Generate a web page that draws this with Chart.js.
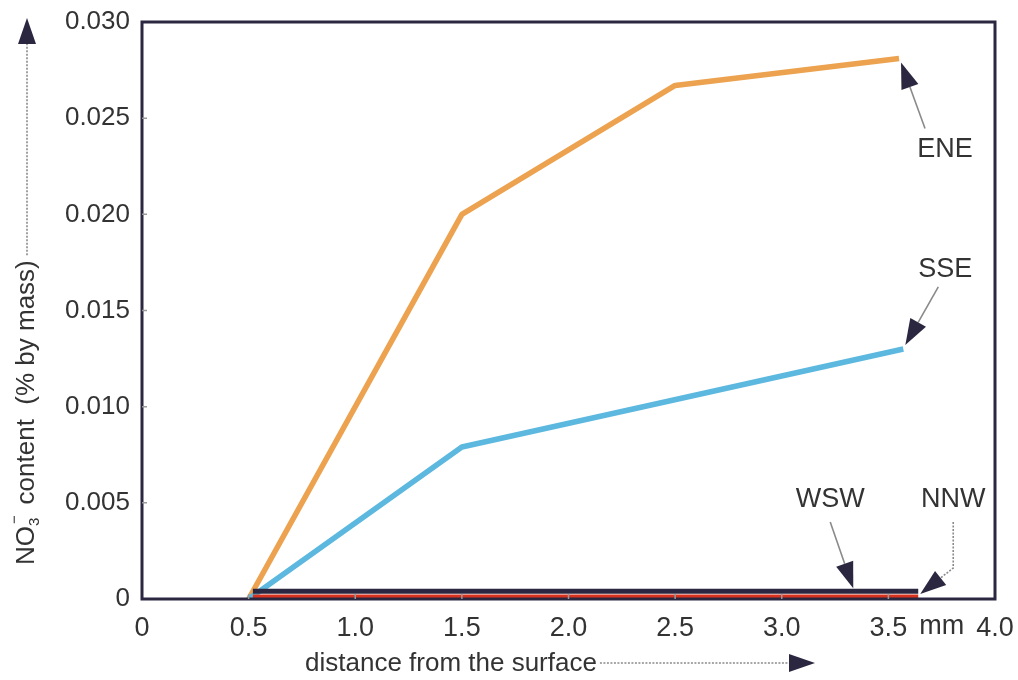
<!DOCTYPE html>
<html>
<head>
<meta charset="utf-8">
<title>NO3- content vs distance from the surface</title>
<script src="https://cdn.jsdelivr.net/npm/chart.js@4/dist/chart.umd.min.js"></script>
<style>
  html, body { margin: 0; padding: 0; background: #ffffff; }
  #wrap { width: 1018px; height: 680px; position: relative; }
</style>
</head>
<body>
<div id="wrap"><canvas id="chart" width="1018" height="680"></canvas></div>
<script>
// Depth profiles of nitrate content (% by mass) per facade orientation
const eneDistance = [0.5, 1.5, 2.5, 3.55];
const eneValues   = [0, 0.0200, 0.0267, 0.0281];

const sseDistance = [0.5, 1.5, 3.57];
const sseValues   = [0, 0.0079, 0.0130];

const wswDistance = [0.52, 3.64];
const wswValues   = [0.0004, 0.0004];

const nnwDistance = [0.52, 3.64];
const nnwValues   = [0.0001, 0.0001];

const xTicks = [0, 0.5, 1.0, 1.5, 2.0, 2.5, 3.0, 3.5, 4.0];
const yTicks = [0, 0.005, 0.010, 0.015, 0.020, 0.025, 0.030];

const seriesNames = ['ENE', 'SSE', 'WSW', 'NNW'];

const INK = '#2c2740';
const TEXT = '#333333';
const FONT = '"Liberation Sans", Arial, Helvetica, sans-serif';

function pts(xs, ys) { return xs.map((x, i) => ({ x: x, y: ys[i] })); }

// Arrow with a thin shaft and a solid dark head
function arrow(ctx, path, dashed) {
  const n = path.length;
  const [tx, ty] = path[n - 1];
  const [px, py] = path[n - 2];
  const ang = Math.atan2(ty - py, tx - px);
  const len = 26, half = 9;
  const bx = tx - Math.cos(ang) * len, by = ty - Math.sin(ang) * len;
  ctx.save();
  ctx.strokeStyle = '#8a8a8a';
  ctx.lineWidth = 1.6;
  if (dashed) ctx.setLineDash([2, 1.5]);
  ctx.beginPath();
  ctx.moveTo(path[0][0], path[0][1]);
  for (let i = 1; i < n - 1; i++) ctx.lineTo(path[i][0], path[i][1]);
  ctx.lineTo(bx, by);
  ctx.stroke();
  ctx.setLineDash([]);
  ctx.fillStyle = INK;
  ctx.beginPath();
  ctx.moveTo(tx, ty);
  ctx.lineTo(bx - Math.sin(ang) * half, by + Math.cos(ang) * half);
  ctx.lineTo(bx + Math.sin(ang) * half, by - Math.cos(ang) * half);
  ctx.closePath();
  ctx.fill();
  ctx.restore();
}

const decorations = {
  id: 'decorations',
  afterDraw(chart) {
    const { ctx, chartArea: a, scales: { x, y } } = chart;

    // frame
    ctx.save();
    ctx.strokeStyle = INK;
    ctx.lineWidth = 3;
    ctx.strokeRect(a.left, a.top, a.right - a.left, a.bottom - a.top);

    // short inward tick marks
    ctx.strokeStyle = '#9a9a9a';
    ctx.lineWidth = 1.5;
    ctx.beginPath();
    yTicks.forEach(v => {
      const py = y.getPixelForValue(v);
      if (v > 0 && v < 0.03) { ctx.moveTo(a.left, py); ctx.lineTo(a.left + 5, py); }
    });
    xTicks.forEach(v => {
      const px = x.getPixelForValue(v);
      if (v > 0 && v < 4) { ctx.moveTo(px, a.bottom); ctx.lineTo(px, a.bottom - 5); }
    });
    ctx.stroke();

    // unit next to the last labelled tick
    ctx.fillStyle = TEXT;
    ctx.font = '27px ' + FONT;
    ctx.textAlign = 'center';
    ctx.textBaseline = 'top';
    ctx.fillText('mm', x.getPixelForValue(3.75), a.bottom + 14);

    // x axis title with arrow
    ctx.font = '26px ' + FONT;
    ctx.textAlign = 'left';
    ctx.textBaseline = 'middle';
    const xt = 'distance from the surface';
    ctx.fillText(xt, 305, 664);
    const xtEnd = 305 + ctx.measureText(xt).width + 3;
    arrow(ctx, [[xtEnd, 663], [815, 663]], true);

    // y axis title (rotated) with arrow
    ctx.save();
    ctx.translate(27, 565);
    ctx.rotate(-Math.PI / 2);
    ctx.textAlign = 'left';
    ctx.textBaseline = 'middle';
    let cx = 0;
    ctx.font = '26px ' + FONT;
    ctx.fillText('NO', cx, 0); cx += ctx.measureText('NO').width;
    ctx.font = '15px ' + FONT;
    ctx.fillText('3', cx, 8);
    ctx.fillText('\u2212', cx + 2, -12);
    cx += ctx.measureText('3').width + 6;
    ctx.font = '26px ' + FONT;
    const rest = ' content  (% by mass)';
    ctx.fillText(rest, cx, 0); cx += ctx.measureText(rest).width;
    ctx.restore();
    arrow(ctx, [[27, 565 - cx - 5], [27, 18]], true);

    // series callouts
    const last = (xs, ys) => [x.getPixelForValue(xs[xs.length - 1]), y.getPixelForValue(ys[ys.length - 1])];
    ctx.font = '27px ' + FONT;
    ctx.fillStyle = TEXT;
    ctx.textAlign = 'center';
    ctx.textBaseline = 'middle';

    const [ex, ey] = last(eneDistance, eneValues);
    ctx.fillText(seriesNames[0], ex + 46, ey + 91);
    arrow(ctx, [[ex + 26, ey + 70], [ex + 2, ey + 4]]);

    const [sx, sy] = last(sseDistance, sseValues);
    ctx.fillText(seriesNames[1], sx + 42, sy - 79);
    arrow(ctx, [[sx + 35, sy - 62], [sx + 2, sy - 4]]);

    const [wx, wy] = last(wswDistance, wswValues);
    ctx.fillText(seriesNames[2], wx - 88, 500);
    arrow(ctx, [[wx - 88, 522], [wx - 65, wy - 3]]);

    const [nx, ny] = last(nnwDistance, nnwValues);
    ctx.fillText(seriesNames[3], nx + 35, 500);
    arrow(ctx, [[nx + 35, 522], [nx + 35, 568], [nx + 2, ny - 3]], true);

    ctx.restore();
  }
};

new Chart(document.getElementById('chart'), {
  type: 'line',
  data: {
    datasets: [
      { label: seriesNames[3], data: pts(nnwDistance, nnwValues), borderColor: '#d8321e', borderWidth: 5 },
      { label: seriesNames[2], data: pts(wswDistance, wswValues), borderColor: INK, borderWidth: 5 },
      { label: seriesNames[1], data: pts(sseDistance, sseValues), borderColor: '#5cb8df', borderWidth: 5.5 },
      { label: seriesNames[0], data: pts(eneDistance, eneValues), borderColor: '#eca24f', borderWidth: 5.5 }
    ]
  },
  options: {
    responsive: false,
    animation: false,
    devicePixelRatio: 1,
    layout: { padding: { left: 0, top: 22, right: 23, bottom: 0 } },
    elements: {
      point: { radius: 0, hoverRadius: 0 },
      line: { tension: 0, borderJoinStyle: 'round', borderCapStyle: 'butt', fill: false }
    },
    plugins: { legend: { display: false }, tooltip: { enabled: false } },
    scales: {
      x: {
        type: 'linear',
        min: 0, max: 4,
        afterBuildTicks: s => { s.ticks = xTicks.map(v => ({ value: v })); },
        afterFit: s => { s.height = 81; s.paddingLeft = 0; s.paddingRight = 0; },
        grid: { display: true, drawOnChartArea: false, drawTicks: false },
        border: { display: false },
        ticks: {
          padding: 13,
          color: TEXT,
          font: { family: FONT, size: 27 },
          maxRotation: 0,
          callback: v => v === 0 ? '0' : Number(v).toFixed(1)
        }
      },
      y: {
        type: 'linear',
        min: 0, max: 0.03,
        afterBuildTicks: s => { s.ticks = yTicks.map(v => ({ value: v })); },
        afterFit: s => { s.width = 142; s.paddingTop = 0; s.paddingBottom = 0; },
        grid: { display: true, drawOnChartArea: false, drawTicks: false },
        border: { display: false },
        ticks: {
          padding: 12,
          color: TEXT,
          font: { family: FONT, size: 26 },
          callback: v => v === 0 ? '0' : Number(v).toFixed(3)
        }
      }
    }
  },
  plugins: [decorations]
});
</script>
</body>
</html>
